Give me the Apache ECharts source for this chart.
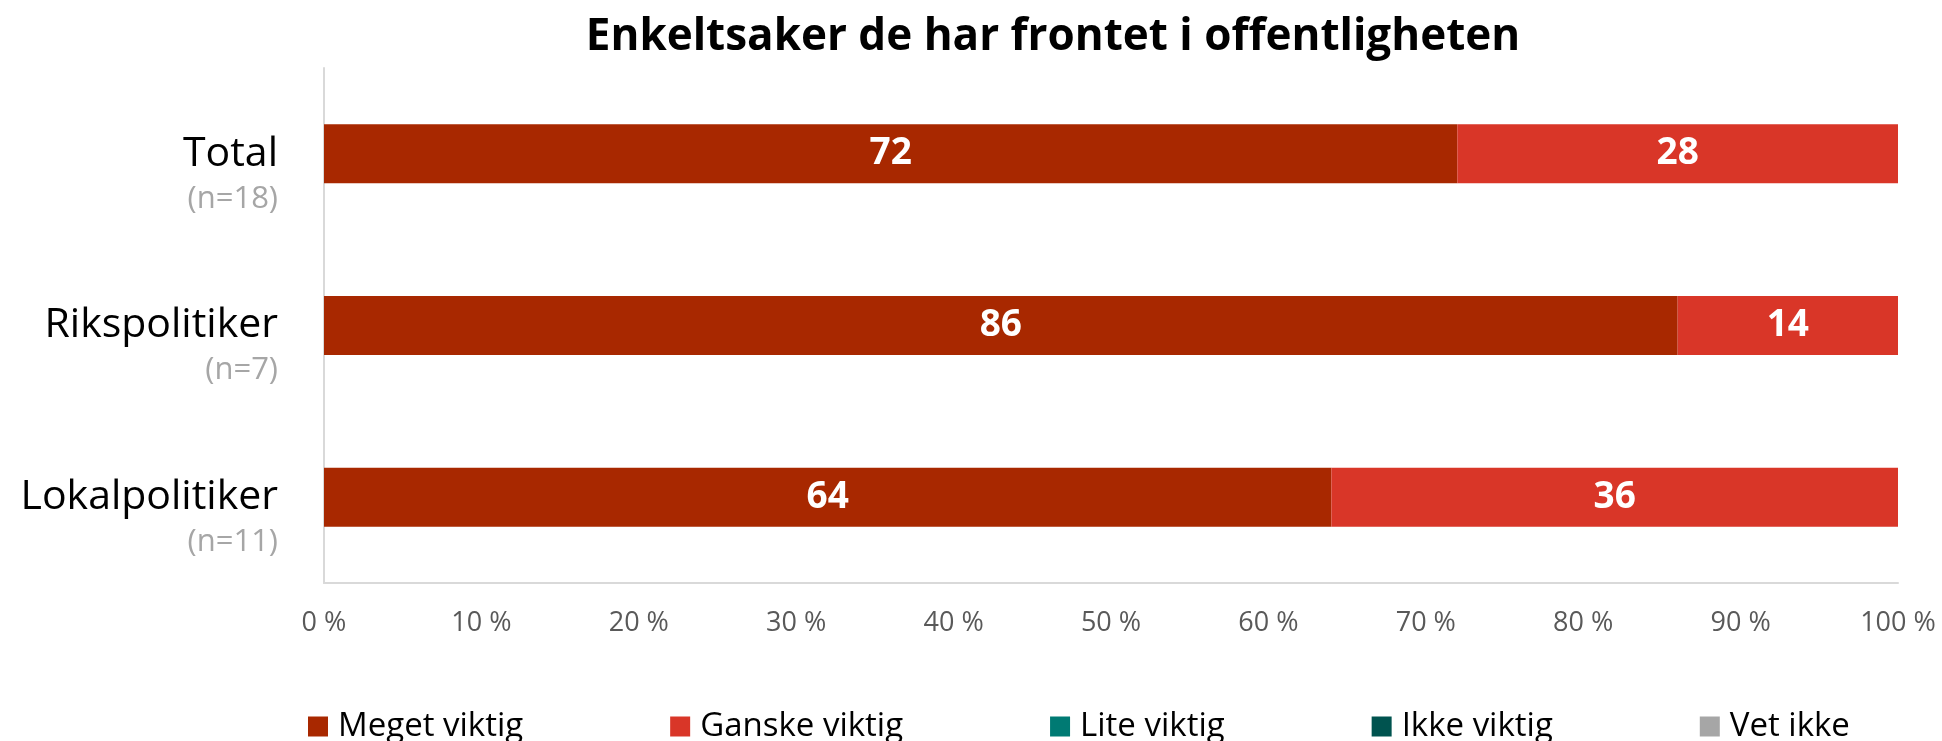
<!DOCTYPE html>
<html>
<head>
<meta charset="utf-8">
<script src="https://cdn.jsdelivr.net/npm/echarts@6/dist/echarts.min.js"></script>
<style>
  html, body { margin: 0; padding: 0; background: #fff; }
  #chart { width: 1942px; height: 741px; }
</style>
</head>
<body>
<div id="chart"></div>
<script>
  // grupper og antall svar
  const categories = ['Total', 'Rikspolitiker', 'Lokalpolitiker'];
  const sampleSizes = ['(n=18)', '(n=7)', '(n=11)'];

  // prosent per svaralternativ
  const megetViktig = [72, 86, 64];
  const ganskeViktig = [28, 14, 36];
  const liteViktig = [0, 0, 0];
  const ikkeViktig = [0, 0, 0];
  const vetIkke = [0, 0, 0];

  const seriesNames = ['Meget viktig', 'Ganske viktig', 'Lite viktig', 'Ikke viktig', 'Vet ikke'];
  const seriesData = [megetViktig, ganskeViktig, liteViktig, ikkeViktig, vetIkke];
  const colors = ['#a82800', '#d93628', '#007a73', '#00534f', '#a6a6a6'];

  const font = "'Open Sans', 'Noto Sans', sans-serif";

  let myChart = echarts.init(document.getElementById('chart'));

  myChart.setOption({
    color: colors,
    animation: false,
    title: {
      text: 'Enkeltsaker de har frontet i offentligheten',
      left: 1048,
      top: 10,
      textAlign: 'center',
      textStyle: {
        fontFamily: font,
        fontWeight: 'bold',
        fontSize: 44,
        color: '#000'
      }
    },
    grid: {
      left: 324,
      right: 44,
      top: 68,
      bottom: 158
    },
    legend: {
      left: 303,
      top: 705,
      itemWidth: 20,
      itemHeight: 20,
      itemGap: 147,
      icon: 'rect',
      textStyle: {
        fontFamily: font,
        fontSize: 33,
        color: '#000',
        padding: [0, 0, 0, 5]
      }
    },
    xAxis: {
      type: 'value',
      min: 0,
      max: 100,
      interval: 10,
      axisLine: { show: true, lineStyle: { color: '#d9d9d9', width: 2 } },
      axisTick: { show: false },
      splitLine: { show: false },
      axisLabel: {
        formatter: '{value} %',
        margin: 27,
        fontFamily: font,
        fontSize: 27,
        color: '#595959'
      }
    },
    yAxis: {
      type: 'category',
      inverse: true,
      data: categories,
      axisLine: { show: true, lineStyle: { color: '#d9d9d9', width: 2 } },
      axisTick: { show: false },
      axisLabel: {
        margin: 46,
        padding: [40, 0, 0, 0],
        formatter: (value, idx) => '{a|' + value + '}\n{b|' + sampleSizes[idx] + '}',
        rich: {
          a: { fontFamily: font, fontSize: 41, color: '#000', lineHeight: 50, align: 'right' },
          b: { fontFamily: font, fontSize: 31, color: '#a6a6a6', lineHeight: 40, align: 'right' }
        }
      }
    },
    series: seriesNames.map((name, i) => ({
      name: name,
      type: 'bar',
      stack: 'total',
      barWidth: 59,
      data: seriesData[i],
      label: {
        show: i < 2,
        position: 'inside',
        color: '#fff',
        fontFamily: font,
        fontWeight: 'bold',
        fontSize: 37
      }
    }))
  });
</script>
</body>
</html>
